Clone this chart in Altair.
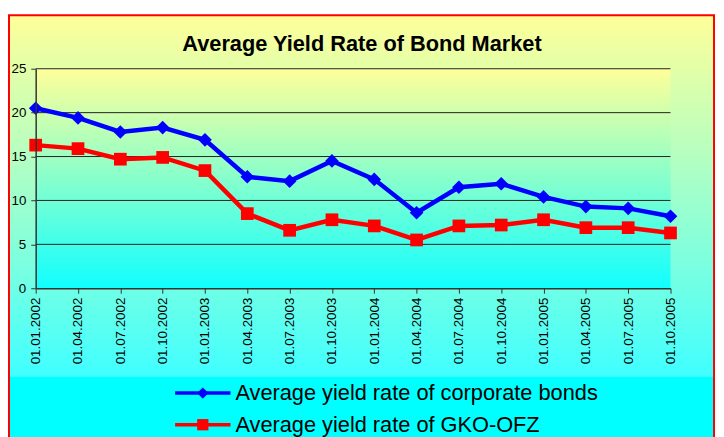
import altair as alt
import pandas as pd

dates = ["01.01.2002", "01.04.2002", "01.07.2002", "01.10.2002",
         "01.01.2003", "01.04.2003", "01.07.2003", "01.10.2003",
         "01.01.2004", "01.04.2004", "01.07.2004", "01.10.2004",
         "01.01.2005", "01.04.2005", "01.07.2005", "01.10.2005"]
corporate = [20.5, 19.4, 17.8, 18.3, 16.9, 12.7, 12.2, 14.5,
             12.4, 8.6, 11.5, 11.9, 10.4, 9.3, 9.1, 8.2]
gko_ofz = [16.3, 15.9, 14.7, 14.9, 13.4, 8.5, 6.6, 7.8,
           7.1, 5.5, 7.1, 7.2, 7.8, 6.9, 6.9, 6.3]
y_ticks = [0, 5, 10, 15, 20, 25]
series_names = ["Average yield rate of corporate bonds",
                "Average yield rate of GKO-OFZ"]
series_colors = ["#0000FF", "#FF0000"]
title_text = "Average Yield Rate of Bond Market"

W, H = 642, 222
FONT = "Arial, Liberation Sans, sans-serif"

df = pd.DataFrame({
    "date": dates * 2,
    "value": corporate + gko_ofz,
    "series": [series_names[0]] * len(dates) + [series_names[1]] * len(dates),
})
grid_df = pd.DataFrame({"value": y_ticks[1:]})
one = pd.DataFrame({"a": [0]})

y_scale = alt.Scale(domain=[0, 25])

x_enc = alt.X("date:N", sort=dates, scale=alt.Scale(type="point", padding=0),
              axis=alt.Axis(title=None, labelAngle=270, labelAlign="right",
                            labelBaseline="middle", labelFontSize=13.5, labelFont=FONT,
                            labelColor="#000000", labelPadding=4, tickSize=5,
                            tickColor="#333333", domainColor="#333333", domainWidth=1.5,
                            grid=False, zindex=1))
y_enc = alt.Y("value:Q", scale=y_scale,
              axis=alt.Axis(title=None, values=y_ticks, labelFontSize=13.5,
                            labelFont=FONT, labelColor="#000000", labelPadding=5,
                            tickSize=5, tickColor="#333333", domainColor="#333333",
                            domainWidth=1.5, grid=False, zindex=1))
color_enc = alt.Color("series:N", scale=alt.Scale(domain=series_names, range=series_colors),
                      legend=None)

outer_bg = alt.Chart(one).mark_rect(
    fill=alt.Gradient(gradient="linear", x1=0, x2=0, y1=0, y2=1,
                      stops=[alt.GradientStop(color="#FFFF99", offset=0),
                             alt.GradientStop(color="#40FFFF", offset=1)])
).encode(x=alt.value(-28), x2=alt.value(687), y=alt.value(-54), y2=alt.value(311))

legend_bg = alt.Chart(one).mark_rect(fill="#00FFFF").encode(
    x=alt.value(-28), x2=alt.value(687), y=alt.value(311), y2=alt.value(380))

border = alt.Chart(one).mark_rect(fill=None, stroke="#FF0000", strokeWidth=2).encode(
    x=alt.value(-27), x2=alt.value(686), y=alt.value(-54), y2=alt.value(400))

plot_bg = alt.Chart(one).mark_rect(
    fill=alt.Gradient(gradient="linear", x1=0, x2=0, y1=0, y2=1,
                      stops=[alt.GradientStop(color="#FFFF99", offset=0),
                             alt.GradientStop(color="#10FFFF", offset=1)])
).encode(x=alt.value(0), x2=alt.value(W), y=alt.value(0), y2=alt.value(H))

grid = alt.Chart(grid_df).mark_rule(color="#222222", strokeWidth=1).encode(
    y=alt.Y("value:Q", scale=y_scale), x=alt.value(0), x2=alt.value(W))

base = alt.Chart(df).encode(x=x_enc, y=y_enc, color=color_enc)
lines = base.mark_line(strokeWidth=4.5)
pts_corp = base.transform_filter(alt.datum.series == series_names[0]).mark_point(
    shape="diamond", filled=True, opacity=1, size=190)
pts_gko = base.transform_filter(alt.datum.series == series_names[1]).mark_point(
    shape="square", filled=True, opacity=1, size=165)

title = alt.Chart(one).mark_text(
    text=title_text, font=FONT, fontSize=22, fontWeight="bold", color="#000000",
    align="center", baseline="middle"
).encode(x=alt.value(330), y=alt.value(-25))

legend_layers = []
row_y = [328, 360]
shapes = ["diamond", "square"]
for i, name in enumerate(series_names):
    legend_layers.append(alt.Chart(one).mark_rule(color=series_colors[i], strokeWidth=3.5).encode(
        x=alt.value(141), x2=alt.value(197), y=alt.value(row_y[i])))
    legend_layers.append(alt.Chart(one).mark_point(
        shape=shapes[i], filled=True, opacity=1, size=130, color=series_colors[i]
    ).encode(x=alt.value(169), y=alt.value(row_y[i])))
    legend_layers.append(alt.Chart(one).mark_text(
        text=name, font=FONT, fontSize=22, color="#000000", align="left", baseline="middle"
    ).encode(x=alt.value(202), y=alt.value(row_y[i])))

chart = alt.layer(
    outer_bg, legend_bg, border, plot_bg, grid, lines, pts_corp, pts_gko, title, *legend_layers
).properties(
    width=W, height=H,
    autosize=alt.AutoSizeParams(type="none"),
    padding={"left": 28, "top": 59, "right": 46, "bottom": 148},
    background="#FFFFFF",
).configure_view(stroke=None)

chart.save("out.html", embed_options={"renderer": "svg", "actions": False})
